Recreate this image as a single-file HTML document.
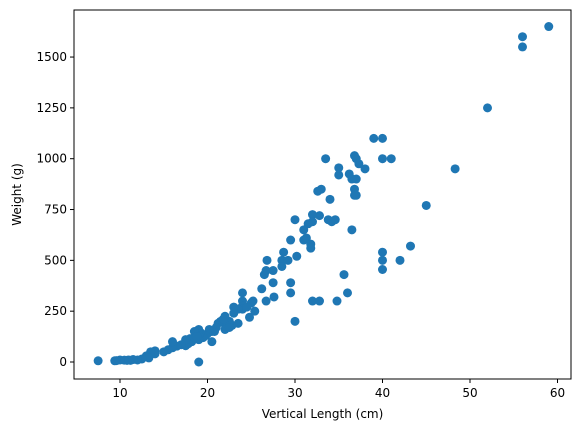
<!DOCTYPE html>
<html><head><meta charset="utf-8"><style>
body{margin:0;background:#fff;font-family:"Liberation Sans","DejaVu Sans",sans-serif}
svg text{font-family:"DejaVu Sans","Liberation Sans",sans-serif;font-size:12px;fill:#000}
</style></head><body>
<svg id="chart" width="580" height="432" xmlns="http://www.w3.org/2000/svg">
<g id="marks"></g>
<g id="axes"></g>
</svg>
<script>
const lengths=[56,56,59,52,48.3,45,43.2,42,40,40,40,41,40,40,39,38,37.3,37,36.8,37,36.5,36.8,36.8,37,36.2,36.5,35,35,35.6,36,34.8,33.5,34,33.8,34.2,34.6,33,32.6,32.8,32,32,31.5,31.3,31,31.8,31.8,31,30,30.2,29.5,29.5,29.5,30,32,32.8,28.5,28.5,28.7,29.2,27.5,27.6,27.5,26.7,26.5,26.7,26.8,26.2,25.2,25.4,25,24.8,24,24,24,24,23.5,23,23,22.8,23.5,22.5,22,22,22,21.5,21.2,21,20.8,20.5,20.2,20,19.8,19.5,19.2,19,19,19,18.5,18.2,18,17.8,17.5,17.5,17,16.5,16,16,15.5,15,14,14,13.5,13,13.3,12.5,12,11.5,11.2,11,10.8,10.5,10,9.6,9.4,7.5,19,18.8,21.8,24.5,20.5,22.5];
const weights=[1600,1550,1650,1250,950,770,570,500,540,500,455,1000,1000,1100,1100,950,975,1000,1015,900,900,850,820,820,925,650,920,955,430,340,300,1000,800,700,690,700,850,840,720,725,690,680,610,650,580,560,600,700,520,600,390,340,200,300,300,500,470,540,500,450,320,390,300,430,450,500,360,300,250,290,220,340,300,275,260,260,270,240,180,190,200,225,185,160,200,190,170,150,150,160,140,130,120,145,160,130,110,150,100,115,90,80,110,85,78,70,100,60,50,55,40,50,30,20,15,10,12,8,10,8,9,10,7,6,6,0,125,210,270,100,170];
const xTicks=[10,20,30,40,50,60];
const yTicks=[0,250,500,750,1000,1250,1500];
const X=v=>120+(v-10)*8.75;
const Y=v=>362-v*0.2033;
const NS="http://www.w3.org/2000/svg";
const marks=document.getElementById('marks'),axes=document.getElementById('axes');
function mk(t,a,p){const e=document.createElementNS(NS,t);for(const k in a)e.setAttribute(k,a[k]);p.appendChild(e);return e;}
lengths.forEach((l,i)=>{
 const c=mk('circle',{cx:X(l),cy:Y(weights[i]),r:4.5,fill:'#1f77b4'},marks);
 
 
});
const L=74,R=571,T=10,B=379;
const f=mk('rect',{x:L,y:T,width:R-L,height:B-T,fill:'none',stroke:'#000','stroke-width':1},axes);


xTicks.forEach(t=>{
 mk('line',{x1:X(t),x2:X(t),y1:B,y2:B+4,stroke:'#000'},axes);
 const tx=mk('text',{x:X(t),y:B+18,'text-anchor':'middle'},axes);tx.textContent=t;
 
 
});
yTicks.forEach(t=>{
 mk('line',{x1:L-4,x2:L,y1:Y(t),y2:Y(t),stroke:'#000'},axes);
 const tx=mk('text',{x:L-7,y:Y(t)+4,'text-anchor':'end'},axes);tx.textContent=t;
 
 
});
const xl=mk('text',{x:(L+R)/2,y:418,'text-anchor':'middle'},axes);xl.textContent='Vertical Length (cm)';


const yl=mk('text',{x:0,y:0,'text-anchor':'middle',transform:`translate(21,${(T+B)/2}) rotate(-90)`},axes);yl.textContent='Weight (g)';


</script>
</body></html>
